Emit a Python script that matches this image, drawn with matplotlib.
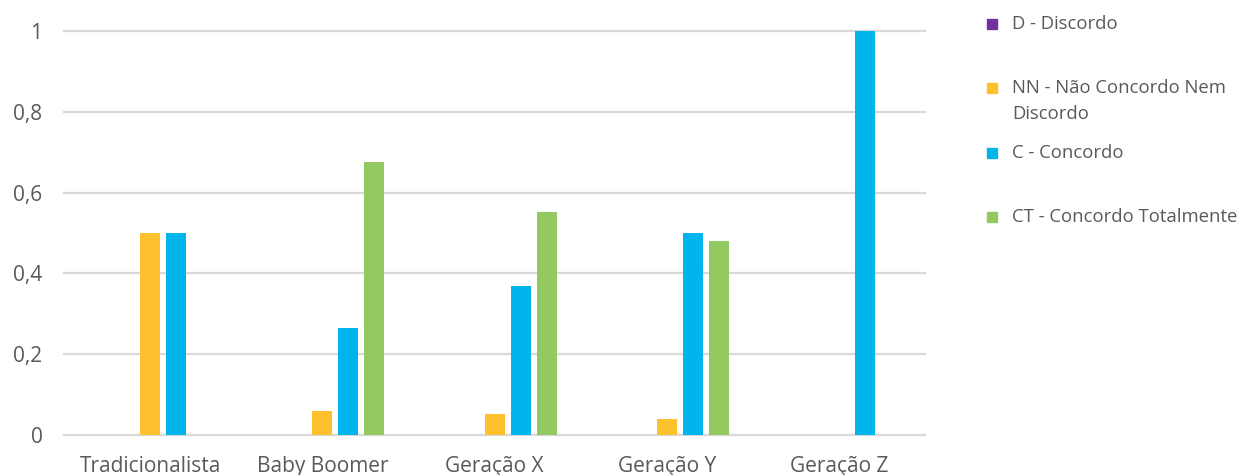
import numpy as np
import matplotlib
matplotlib.use("Agg")
import matplotlib.pyplot as plt
from matplotlib.patches import Rectangle

plt.rcParams["font.family"] = ["Open Sans", "DejaVu Sans"]

# ----------------------------- Data -----------------------------
categories = ["Tradicionalista", "Baby Boomer", "Geração X", "Geração Y", "Geração Z"]
series_labels = ["D - Discordo", "NN - Não Concordo Nem\nDiscordo", "C - Concordo",
                 "CT - Concordo Totalmente"]
d_vals = [0, 0, 0, 0, 0]
nn_vals = [0.5, 0.059, 0.053, 0.04, 0]
c_vals = [0.5, 0.265, 0.368, 0.5, 1.0]
ct_vals = [0, 0.676, 0.553, 0.48, 0]
yticks = [0, 0.2, 0.4, 0.6, 0.8, 1]
ytick_labels = ["0", "0,2", "0,4", "0,6", "0,8", "1"]

colors = ["#7030A0", "#FDC12E", "#00B5EC", "#93C961"]
text_color = "#595959"
grid_color = "#D9D9D9"

# ----------------------------- Plot -----------------------------
fig = plt.figure(figsize=(12.39, 4.75), dpi=100)
ax = fig.add_axes([0.0517, 0.0842, 0.6949, 0.8505])

x = np.arange(len(categories))
step = 0.151
width = 0.116
# five slots per group, the first one is left empty
for k, vals in enumerate([d_vals, nn_vals, c_vals, ct_vals]):
    ax.bar(x + (k + 1 - 2) * step, vals, width=width, color=colors[k], zorder=3)

ax.set_xlim(-0.5, len(categories) - 0.5)
ax.set_ylim(0, 1)
ax.set_yticks(yticks)
ax.set_yticklabels(ytick_labels)
ax.set_xticks(x)
ax.set_xticklabels(categories)
for y in yticks:
    ax.axhline(y, color=grid_color, lw=1.6, zorder=1, clip_on=False)
for s in ax.spines.values():
    s.set_visible(False)
ax.tick_params(axis="both", length=0, colors=text_color, labelsize=15)
ax.tick_params(axis="y", pad=15.5)
ax.tick_params(axis="x", pad=15)

# legend on the right
leg_y = [24, 88, 153, 217]
for lbl, col, yp in zip(series_labels, colors, leg_y):
    yf = 1 - yp / 475
    fig.add_artist(Rectangle((987 / 1239, yf - 5 / 475), 10 / 1239, 10 / 475,
                             transform=fig.transFigure, color=col))
    fig.text(1012 / 1239, yf + 9 / 475, lbl, ha="left", va="top", fontsize=13.3,
             color=text_color, linespacing=1.55)

fig.savefig("out.png", dpi=100)
